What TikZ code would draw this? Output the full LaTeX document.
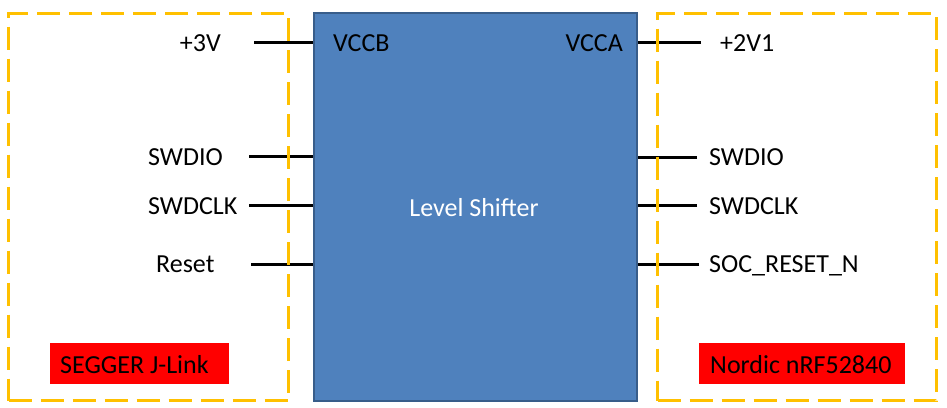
\documentclass[tikz,border=0pt]{standalone}
\usepackage{fontspec}
\setmainfont{Carlito}
\begin{document}
\begin{tikzpicture}[x=1pt,y=-1pt,
  txt/.style={inner sep=0pt,anchor=base west,font=\fontsize{26}{30}\selectfont},
  txtr/.style={txt,anchor=base east},
  wire/.style={line width=3pt,black},
  grp/.style={draw={rgb,255:red,255;green,192;blue,0},line width=3pt,dash pattern=on 23pt off 9pt},
  lbl/.style={fill={rgb,255:red,255;green,0;blue,0},draw=none}]
\useasboundingbox (0,0) rectangle (947,407);
% level shifter
\node[draw={rgb,255:red,56;green,93;blue,138},line width=2pt,fill={rgb,255:red,79;green,129;blue,189},
  minimum width=323pt,minimum height=388pt,inner sep=0pt,anchor=north west] (ls) at (313,12) {};
\node[txt,anchor=base,text=white] (lst) at (474,216) {Level Shifter};
% free ends of wires
\coordinate (a1) at (254,42);
\coordinate (a2) at (249,156);
\coordinate (a3) at (249,205);
\coordinate (a4) at (251,264);
\coordinate (b1) at (701,42);
\coordinate (b2) at (697,157);
\coordinate (b3) at (697,205);
\coordinate (b4) at (699,264);
\draw[wire] (a1) -- (a1 -| ls.west);
\draw[wire] (a2) -- (a2 -| ls.west);
\draw[wire] (a3) -- (a3 -| ls.west);
\draw[wire] (a4) -- (a4 -| ls.west);
\draw[wire] (b1) -- (b1 -| ls.east);
\draw[wire] (b2) -- (b2 -| ls.east);
\draw[wire] (b3) -- (b3 -| ls.east);
\draw[wire] (b4) -- (b4 -| ls.east);
% group boxes
\node[grp,minimum width=280pt,minimum height=387pt,inner sep=0pt,anchor=north west] (jl) at (7,12) {};
\node[grp,minimum width=279pt,minimum height=387pt,inner sep=0pt,anchor=north west] (nr) at (656,12) {};
% red labels
\node[lbl,minimum width=179pt,minimum height=41pt,inner sep=0pt,anchor=north west] (jlb) at (50,343) {};
\node[lbl,minimum width=206pt,minimum height=41pt,inner sep=0pt,anchor=north west] (nrb) at (699,343) {};
\node[txt] (jlt) at (60,373) {SEGGER J-Link};
\node[txt] (nrt) at (710,373) {Nordic nRF52840};
% pin labels
\node[txtr] (p3v) at (221,51) {+3V};
\node[txt] (vccb) at (333,51) {VCCB};
\node[txtr] (vcca) at (623,51) {VCCA};
\node[txt] (p21) at (720,51) {+2V1};
\node[txt] (lsd) at (148,165) {SWDIO};
\node[txt] (lsc) at (148,214) {SWDCLK};
\node[txt] (lrs) at (156,272) {Reset};
\node[txt] (rsd) at (709,165) {SWDIO};
\node[txt] (rsc) at (709,214) {SWDCLK};
\node[txt] (rrs) at (709,272) {SOC\_RESET\_N};
\end{tikzpicture}
\end{document}
